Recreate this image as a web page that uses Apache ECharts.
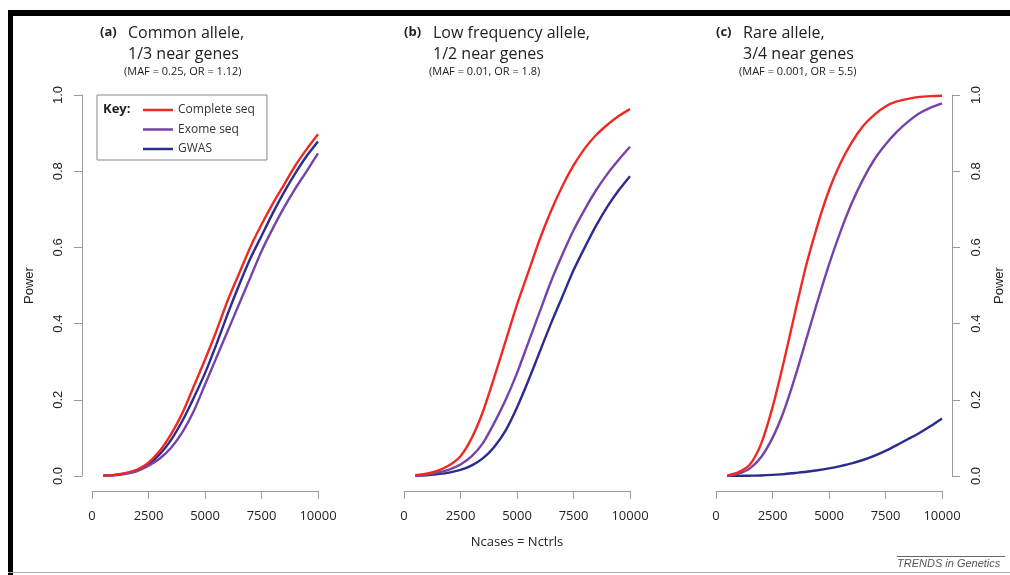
<!DOCTYPE html>
<html>
<head>
<meta charset="utf-8">
<script src="https://cdn.jsdelivr.net/npm/echarts@6/dist/echarts.min.js"></script>
<style>
  html, body { margin: 0; padding: 0; background: #fff; }
  #chart { width: 1010px; height: 575px; }
</style>
</head>
<body>
<div id="chart"></div>
<script>
// sample sizes (Ncases = Nctrls)
const nCases = [500, 1000, 1500, 2000, 2500, 3000, 3500, 4000, 4500, 5000,
  5500, 6000, 6500, 7000, 7500, 8000, 8500, 9000, 9500, 10000];

// (a) common allele
const completeA = [0.001, 0.003, 0.008, 0.017, 0.035, 0.066, 0.11, 0.165, 0.235, 0.305,
  0.38, 0.46, 0.53, 0.60, 0.66, 0.715, 0.765, 0.815, 0.858, 0.897];
const exomeA = [0.001, 0.002, 0.006, 0.013, 0.027, 0.046, 0.074, 0.115, 0.17, 0.24,
  0.31, 0.38, 0.45, 0.52, 0.59, 0.65, 0.705, 0.755, 0.80, 0.847];
const gwasA = [0.001, 0.003, 0.007, 0.015, 0.031, 0.057, 0.095, 0.145, 0.205, 0.27,
  0.345, 0.425, 0.50, 0.57, 0.63, 0.69, 0.745, 0.795, 0.84, 0.878];

// (b) low frequency allele
const completeB = [0.002, 0.006, 0.014, 0.028, 0.052, 0.1, 0.17, 0.26, 0.355, 0.45,
  0.535, 0.62, 0.695, 0.76, 0.815, 0.86, 0.895, 0.922, 0.945, 0.963];
const exomeB = [0.001, 0.004, 0.009, 0.017, 0.03, 0.052, 0.087, 0.14, 0.20, 0.27,
  0.35, 0.43, 0.51, 0.58, 0.645, 0.70, 0.75, 0.793, 0.83, 0.864];
const gwasB = [0.001, 0.002, 0.005, 0.009, 0.016, 0.028, 0.047, 0.077, 0.12, 0.18,
  0.25, 0.325, 0.40, 0.47, 0.54, 0.60, 0.657, 0.707, 0.75, 0.787];

// (c) rare allele
const completeC = [0.001, 0.01, 0.03, 0.085, 0.18, 0.30, 0.43, 0.555, 0.66, 0.75,
  0.82, 0.875, 0.918, 0.948, 0.97, 0.983, 0.99, 0.995, 0.997, 0.998];
const exomeC = [0.0, 0.006, 0.02, 0.05, 0.10, 0.17, 0.26, 0.36, 0.46, 0.555,
  0.64, 0.715, 0.778, 0.83, 0.87, 0.903, 0.93, 0.952, 0.967, 0.978];
const gwasC = [0.0, 0.0003, 0.0008, 0.0015, 0.003, 0.005, 0.008, 0.011, 0.015, 0.02,
  0.026, 0.033, 0.042, 0.053, 0.066, 0.081, 0.097, 0.113, 0.131, 0.151];

const xTicks = [0, 2500, 5000, 7500, 10000];
const yTicks = [0, 0.2, 0.4, 0.6, 0.8, 1.0];

const seriesNames = ['Complete seq', 'Exome seq', 'GWAS'];
const colors = ['#ee2a24', '#7544a8', '#2c2b8e'];
const panels = [
  [completeA, exomeA, gwasA],
  [completeB, exomeB, gwasB],
  [completeC, exomeC, gwasC]
];

const gridLefts = [92, 404, 716];
const axisGray = '#9a9a9a';
const labelFont = 'Liberation Sans';
const bodyFont = 'Open Sans';

const chart = echarts.init(document.getElementById('chart'));

const grids = gridLefts.map((left) => ({
  left: left,
  width: 226,
  top: 95,
  height: 381
}));

const xAxes = gridLefts.map((left, i) => ({
  type: 'value',
  gridIndex: i,
  min: xTicks[0],
  max: xTicks[xTicks.length - 1],
  interval: 2500,
  offset: 15,
  name: i === 1 ? 'Ncases = Nctrls' : '',
  nameLocation: 'middle',
  nameGap: 45,
  nameTextStyle: { fontFamily: bodyFont, fontSize: 13, color: '#222' },
  axisLine: { show: true, onZero: false, lineStyle: { color: axisGray, width: 1 } },
  axisTick: { show: true, length: 8, lineStyle: { color: axisGray } },
  axisLabel: {
    color: '#222',
    fontFamily: bodyFont,
    fontSize: 13,
    margin: 19,
    formatter: (v) => String(v)
  },
  splitLine: { show: false }
}));

const yAxes = gridLefts.map((left, i) => ({
  type: 'value',
  gridIndex: i,
  show: i !== 1,
  position: i === 2 ? 'right' : 'left',
  min: yTicks[0],
  max: yTicks[yTicks.length - 1],
  interval: 0.2,
  offset: 10,
  name: 'Power',
  nameLocation: 'middle',
  nameRotate: 90,
  nameGap: i === 2 ? 41 : 46,
  nameTextStyle: { fontFamily: labelFont, fontSize: 13, color: '#222' },
  axisLine: { show: true, onZero: false, lineStyle: { color: axisGray, width: 1 } },
  axisTick: { show: true, length: 8, lineStyle: { color: axisGray } },
  axisLabel: {
    color: '#222',
    fontFamily: labelFont,
    fontSize: 13,
    rotate: 90,
    margin: i === 2 ? 18 : 17,
    formatter: (v) => v.toFixed(1)
  },
  splitLine: { show: false }
}));

const series = [];
panels.forEach((curves, p) => {
  curves.forEach((vals, k) => {
    series.push({
      name: seriesNames[k],
      type: 'line',
      xAxisIndex: p,
      yAxisIndex: p,
      symbol: 'none',
      smooth: 0.25,
      silent: true,
      z: 3 - k,
      lineStyle: { color: colors[k], width: 2.4 },
      itemStyle: { color: colors[k] },
      data: nCases.map((n, j) => [n, vals[j]])
    });
  });
});

function txt(x, y, text, size, extra) {
  return {
    type: 'text',
    left: x,
    top: y,
    style: Object.assign({
      text: text,
      fontFamily: bodyFont,
      fontSize: size,
      fill: '#222'
    }, extra || {})
  };
}

const titles = [
  { x: 100, tx: 128, l1: 'Common allele,', l2: '1/3 near genes', sub: '(MAF = 0.25, OR = 1.12)', tag: '(a)' },
  { x: 404, tx: 433, l1: 'Low frequency allele,', l2: '1/2 near genes', sub: '(MAF = 0.01, OR = 1.8)', tag: '(b)' },
  { x: 716, tx: 743, l1: 'Rare allele,', l2: '3/4 near genes', sub: '(MAF = 0.001, OR = 5.5)', tag: '(c)' }
];

const graphics = [
  // frame
  { type: 'rect', shape: { x: 8, y: 10, width: 1002, height: 6 }, style: { fill: '#000' } },
  { type: 'rect', shape: { x: 8, y: 10, width: 5, height: 565 }, style: { fill: '#000' } },
  { type: 'rect', shape: { x: 8, y: 572, width: 1002, height: 1 }, style: { fill: '#aaa' } },
  { type: 'rect', shape: { x: 897, y: 556, width: 108, height: 1 }, style: { fill: '#666' } },
  txt(897, 558, 'TRENDS in Genetics', 11, { fontFamily: 'Liberation Sans', fontStyle: 'italic', fill: '#555' }),
  // legend box title
  txt(103, 103, 'Key:', 13, { fontWeight: 'bold' })
];
titles.forEach((t) => {
  graphics.push(txt(t.x, 26, t.tag, 13, { fontWeight: 'bold' }));
  graphics.push(txt(t.tx, 25, t.l1, 16));
  graphics.push(txt(t.tx, 46, t.l2, 16));
  graphics.push(txt(t.tx - 4, 66, t.sub, 11));
});

chart.setOption({
  backgroundColor: '#fff',
  animation: false,
  grid: grids,
  xAxis: xAxes,
  yAxis: yAxes,
  legend: {
    data: seriesNames,
    left: 97,
    top: 95,
    orient: 'vertical',
    padding: [8, 12, 4, 46],
    icon: 'rect',
    itemWidth: 30,
    itemHeight: 2.5,
    itemGap: 5.5,
    borderColor: '#888',
    borderWidth: 1,
    selectedMode: false,
    textStyle: { fontFamily: bodyFont, fontSize: 12, lineHeight: 14, color: '#333' }
  },
  graphic: graphics,
  series: series
});
</script>
</body>
</html>
